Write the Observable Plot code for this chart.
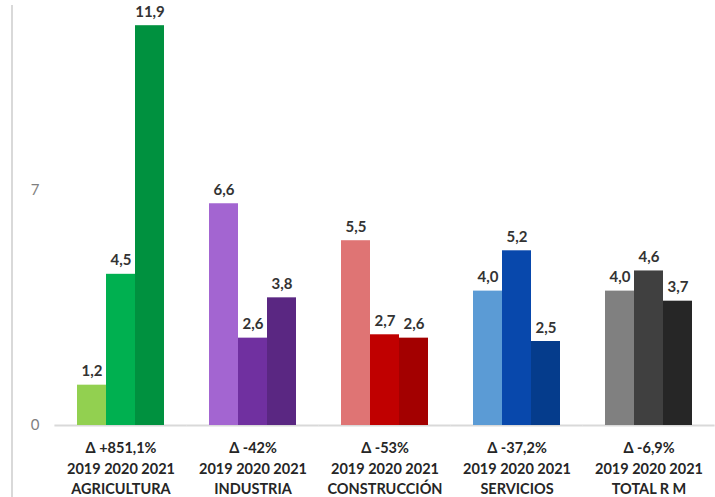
<!DOCTYPE html>
<html>
<head>
<meta charset="utf-8">
<script src="https://cdn.jsdelivr.net/npm/d3@7"></script>
<script src="https://cdn.jsdelivr.net/npm/@observablehq/plot@0.6"></script>
<style>
  html, body { margin: 0; padding: 0; background: #fff; }
  #wrap { position: relative; width: 715px; height: 497px; overflow: hidden; }
  #border { position: absolute; left: 11px; top: 5px; bottom: 0; width: 2px; background: #d9d9d9; }
</style>
</head>
<body>
<div id="wrap"><div id="border"></div></div>
<script>
const categories = ["AGRICULTURA", "INDUSTRIA", "CONSTRUCCIÓN", "SERVICIOS", "TOTAL R M"];
const deltas = ["Δ +851,1%", "Δ -42%", "Δ -53%", "Δ -37,2%", "Δ -6,9%"];
const years = ["2019", "2020", "2021"];
const values2019 = [1.2, 6.6, 5.5, 4.0, 4.0];
const values2020 = [4.5, 2.6, 2.7, 5.2, 4.6];
const values2021 = [11.9, 3.8, 2.6, 2.5, 3.7];
const yTicks = [0, 7];
const palette = [
  ["#92d050", "#00b050", "#00913f"],
  ["#a365d1", "#7030a0", "#5a2782"],
  ["#df7474", "#c00000", "#a30000"],
  ["#5b9bd5", "#0848ac", "#053c8c"],
  ["#808080", "#404040", "#262626"]
];

const series = [values2019, values2020, values2021];
const data = categories.flatMap((c, i) =>
  years.map((y, j) => ({category: c, year: y, value: series[j][i], color: palette[i][j]}))
);
const fmt = v => d3.format(".1f")(v).replace(".", ",");

const chart = Plot.plot({
  width: 715,
  height: 497,
  marginLeft: 55,
  marginRight: 0,
  marginTop: 0,
  marginBottom: 72,
  style: {fontFamily: "Lato, 'Open Sans', sans-serif", background: "transparent"},
  fx: {domain: categories, paddingInner: 0.34, paddingOuter: 0.17, label: null, axis: null},
  x: {domain: years, padding: 0, axis: null},
  y: {domain: [0, 12.65], label: null},
  color: {type: "identity"},
  marks: [
    Plot.ruleY([0], {stroke: "#d9d9d9", strokeWidth: 2, insetLeft: -22.6, insetRight: -22.6}),
    Plot.barY(data, {fx: "category", x: "year", y: "value", fill: "color"}),
    Plot.text(data, {
      fx: "category", x: "year", y: "value", text: d => fmt(d.value),
      lineAnchor: "bottom", dy: -9, fontWeight: "bold", fontSize: 15, fill: "#333333"
    }),
    Plot.axisY({ticks: yTicks, tickSize: 0, tickPadding: 38, fontSize: 15, fill: "#7f7f7f", label: null}),
    Plot.axisFx({
      anchor: "bottom", tickSize: 0, tickPadding: 13, fontSize: 14.5, fontWeight: "bold", lineHeight: 1.42,
      fill: "#262626", label: null,
      tickFormat: c => `${deltas[categories.indexOf(c)]}\n${years.join(" ")}\n${c}`
    })
  ]
});
document.getElementById("wrap").appendChild(chart);
chart.style.position = "absolute";
chart.style.left = "0";
chart.style.top = "0";
</script>
</body>
</html>
